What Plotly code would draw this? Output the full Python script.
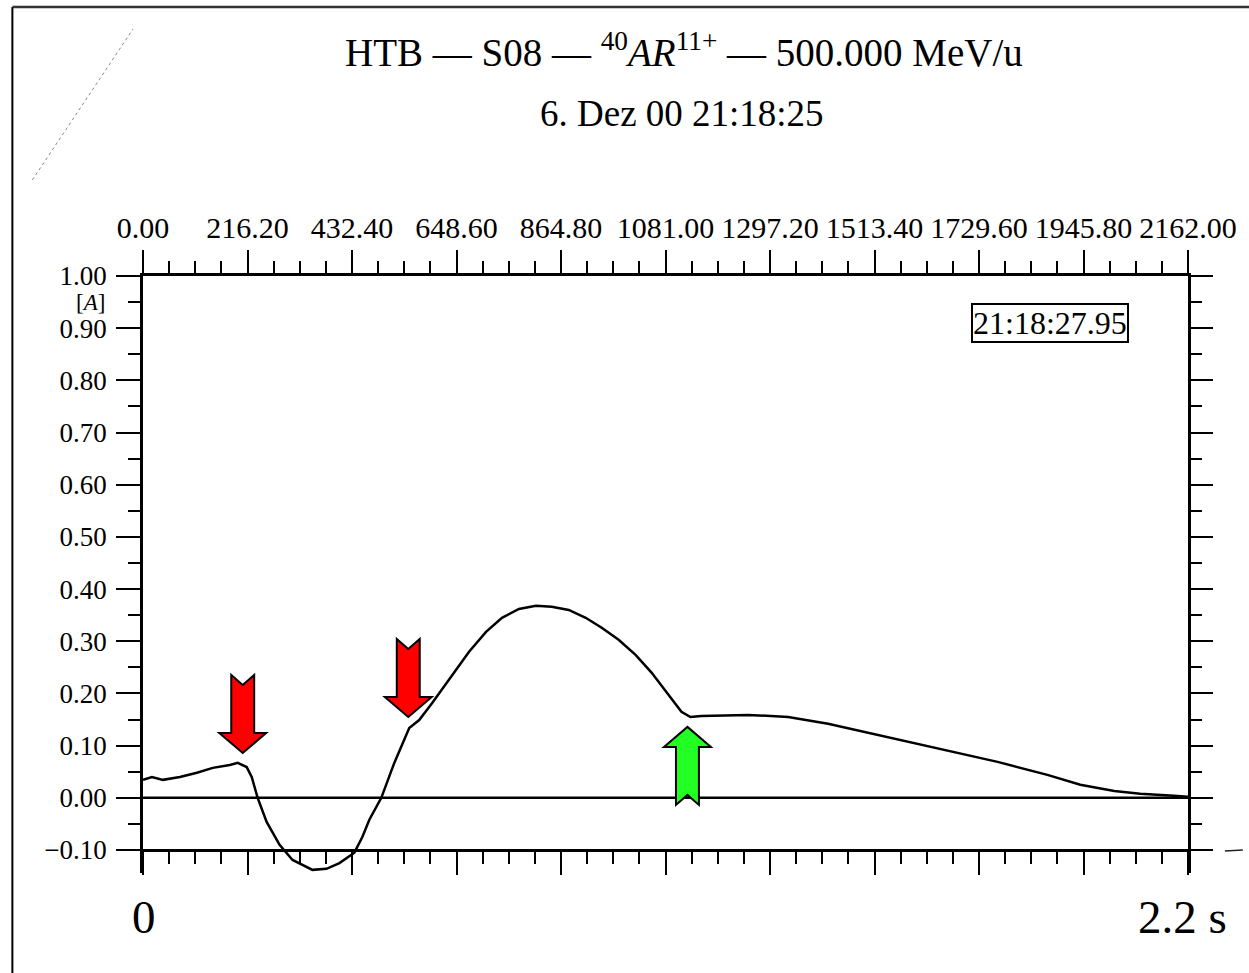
import plotly.graph_objects as go

# Beam current trace (time in ms, current in A)
time_ms = [0, 18.6, 41.3, 76.3, 111.4, 144.4, 179.5, 196.0, 214.5, 224.9, 237.2,
           255.8, 282.6, 309.4, 350.7, 379.6, 406.4, 437.3, 453.8, 468.3, 493.0,
           519.9, 550.8, 571.4, 598.3, 633.3, 674.6, 709.7, 742.7, 777.8, 812.8,
           845.8, 880.9, 915.9, 949.0, 984.0, 1019.1, 1052.1, 1087.2, 1114.0,
           1132.6, 1155.3, 1252.3, 1334.8, 1417.3, 1499.8, 1582.3, 1664.8,
           1768.0, 1871.1, 1939.2, 2009.4, 2063.0, 2133.2, 2162.0]
current_A = [0.0345, 0.040, 0.0345, 0.040, 0.048, 0.0575, 0.063, 0.067, 0.059, 0.040, 0.0,
             -0.046, -0.090, -0.119, -0.138, -0.136, -0.125, -0.105, -0.075, -0.042, 0.0,
             0.067, 0.134, 0.149, 0.182, 0.226, 0.280, 0.318, 0.345, 0.362, 0.368,
             0.366, 0.360, 0.345, 0.326, 0.303, 0.274, 0.240, 0.197, 0.165,
             0.155, 0.157, 0.159, 0.155, 0.142, 0.125, 0.107, 0.090,
             0.069, 0.044, 0.025, 0.013, 0.008, 0.004, 0.002]

x_max = 2162.0
x_major = 216.2
x_minor = 54.05
y_axis_min, y_axis_max = -0.10, 1.00
y_view_min = -0.144   # frame lines run a little below the bottom axis

# Arrow markers: (tip time, tip current, direction, fill colour)
arrows = [
    (206.3, 0.086, "down", "#ff0000"),
    (548.8, 0.155, "down", "#ff0000"),
    (1126.4, 0.136, "up", "#22ff22"),
]

title_line1 = "HTB — S08 — <sup>40</sup><i>AR</i><sup>11+</sup> — 500.000 MeV/u"
title_line2 = "6. Dez 00 21:18:25"
stamp_text = "21:18:27.95"
y_unit = "[<i>A</i>]"
start_label = "0"
end_label = "2.2 s"

W, H = 1249, 973
ML, MR, MT, MB = 143, 58, 276, 100
plot_w = W - ML - MR
plot_h = H - MT - MB
px_x = plot_w / x_max                      # pixels per ms
px_y = plot_h / (y_axis_max - y_view_min)  # pixels per A
bottom_axis_pos = (y_axis_min - y_view_min) / (y_axis_max - y_view_min)

SERIF = "Liberation Serif"


def arrow_path(tx, ty, direction, head_half=23.5, head_len=20, shaft_half=11.5,
               length=78, notch=10):
    """Block arrow outline in data coordinates, sized in pixels."""
    s = -1 if direction == "down" else 1
    pts_px = [
        (0, 0),
        (head_half, head_len),
        (shaft_half, head_len),
        (shaft_half, length),
        (0, length - notch),
        (-shaft_half, length),
        (-shaft_half, head_len),
        (-head_half, head_len),
    ]
    pts = [(tx + dx / px_x, ty - s * dy / px_y) for dx, dy in pts_px]
    return "M " + " L ".join(f"{x:.3f},{y:.5f}" for x, y in pts) + " Z"


fig = go.Figure()
fig.add_trace(go.Scatter(x=time_ms, y=current_A, mode="lines",
                         line=dict(color="black", width=2.5),
                         showlegend=False, hoverinfo="skip"))
fig.add_trace(go.Scatter(x=time_ms, y=current_A, mode="lines", xaxis="x2", yaxis="y2",
                         line=dict(color="rgba(0,0,0,0)", width=1),
                         showlegend=False, hoverinfo="skip"))

axis_common = dict(showline=True, linecolor="black", linewidth=2.5, ticks="outside",
                   tickcolor="black", tickwidth=2, showgrid=False, zeroline=False)
x_minor_ticks = dict(ticks="outside", dtick=x_minor, tick0=0, ticklen=12,
                     tickwidth=2, tickcolor="black")

fig.update_layout(
    width=W, height=H,
    margin=dict(l=ML, r=MR, t=MT, b=MB),
    paper_bgcolor="white", plot_bgcolor="white",
    xaxis=dict(range=[0, x_max], tick0=0, dtick=x_major, ticklen=23,
               showticklabels=False, side="bottom", anchor="free",
               position=bottom_axis_pos, minor=x_minor_ticks, **axis_common),
    xaxis2=dict(range=[0, x_max], tick0=0, dtick=x_major, ticklen=23,
                overlaying="x", side="top", tickformat=".2f",
                tickfont=dict(family=SERIF, size=30, color="black"),
                minor=x_minor_ticks, **axis_common),
    yaxis=dict(range=[y_view_min, y_axis_max], tick0=0, dtick=0.1, ticklen=24,
               tickformat=".2f", ticklabelstandoff=4,
               tickfont=dict(family=SERIF, size=27, color="black"),
               minor=dict(ticks="outside", dtick=0.05, tick0=0, ticklen=12,
                          tickwidth=2, tickcolor="black"),
               **axis_common),
    yaxis2=dict(range=[y_view_min, y_axis_max], tick0=0, dtick=0.1, ticklen=22,
                overlaying="y", side="right", showticklabels=False,
                minor=dict(ticks="outside", dtick=0.05, tick0=0, ticklen=11,
                           tickwidth=2, tickcolor="black"),
                **axis_common),
)

# zero reference line
fig.add_shape(type="line", xref="x", yref="y", x0=0, x1=x_max, y0=0, y1=0,
              line=dict(color="black", width=2.5), layer="above")

for tx, ty, direction, color in arrows:
    fig.add_shape(type="path", xref="x", yref="y", path=arrow_path(tx, ty, direction),
                  fillcolor=color, line=dict(color="black", width=2), layer="above")


def paper_x(px):
    return (px - ML) / plot_w


def paper_y(py):
    return (H - MB - py) / plot_h


# outer frame of the sheet
fig.add_shape(type="line", xref="paper", yref="paper",
              x0=paper_x(12), x1=paper_x(12), y0=paper_y(7), y1=paper_y(H + 5),
              line=dict(color="black", width=2))
fig.add_shape(type="line", xref="paper", yref="paper",
              x0=paper_x(12), x1=paper_x(W + 5), y0=paper_y(7), y1=paper_y(7),
              line=dict(color="#333333", width=2.5))
# faint pencil stroke in the upper left and a stray dash right of the axis
fig.add_shape(type="line", xref="paper", yref="paper",
              x0=paper_x(32), x1=paper_x(133), y0=paper_y(180), y1=paper_y(29),
              line=dict(color="#888888", width=1, dash="dot"))
fig.add_shape(type="line", xref="paper", yref="paper",
              x0=paper_x(1228), x1=paper_x(1246), y0=paper_y(851), y1=paper_y(850),
              line=dict(color="#222222", width=1.5))


def label(text, px, py, size, **extra):
    fig.add_annotation(text=text, xref="paper", yref="paper",
                       x=paper_x(px), y=paper_y(py), xanchor="center", yanchor="middle",
                       showarrow=False, font=dict(family=SERIF, size=size, color="black"),
                       **extra)


label(title_line1, 686, 50, 39)
label(title_line2, 684, 114, 37)
label(stamp_text, 1053, 323, 32, bordercolor="black", borderwidth=2, borderpad=0,
      bgcolor="white")
label(y_unit, 90, 302, 23)
label(start_label, 144, 917, 47)
label(end_label, 1185, 917, 47)

fig.write_html("out.html")
